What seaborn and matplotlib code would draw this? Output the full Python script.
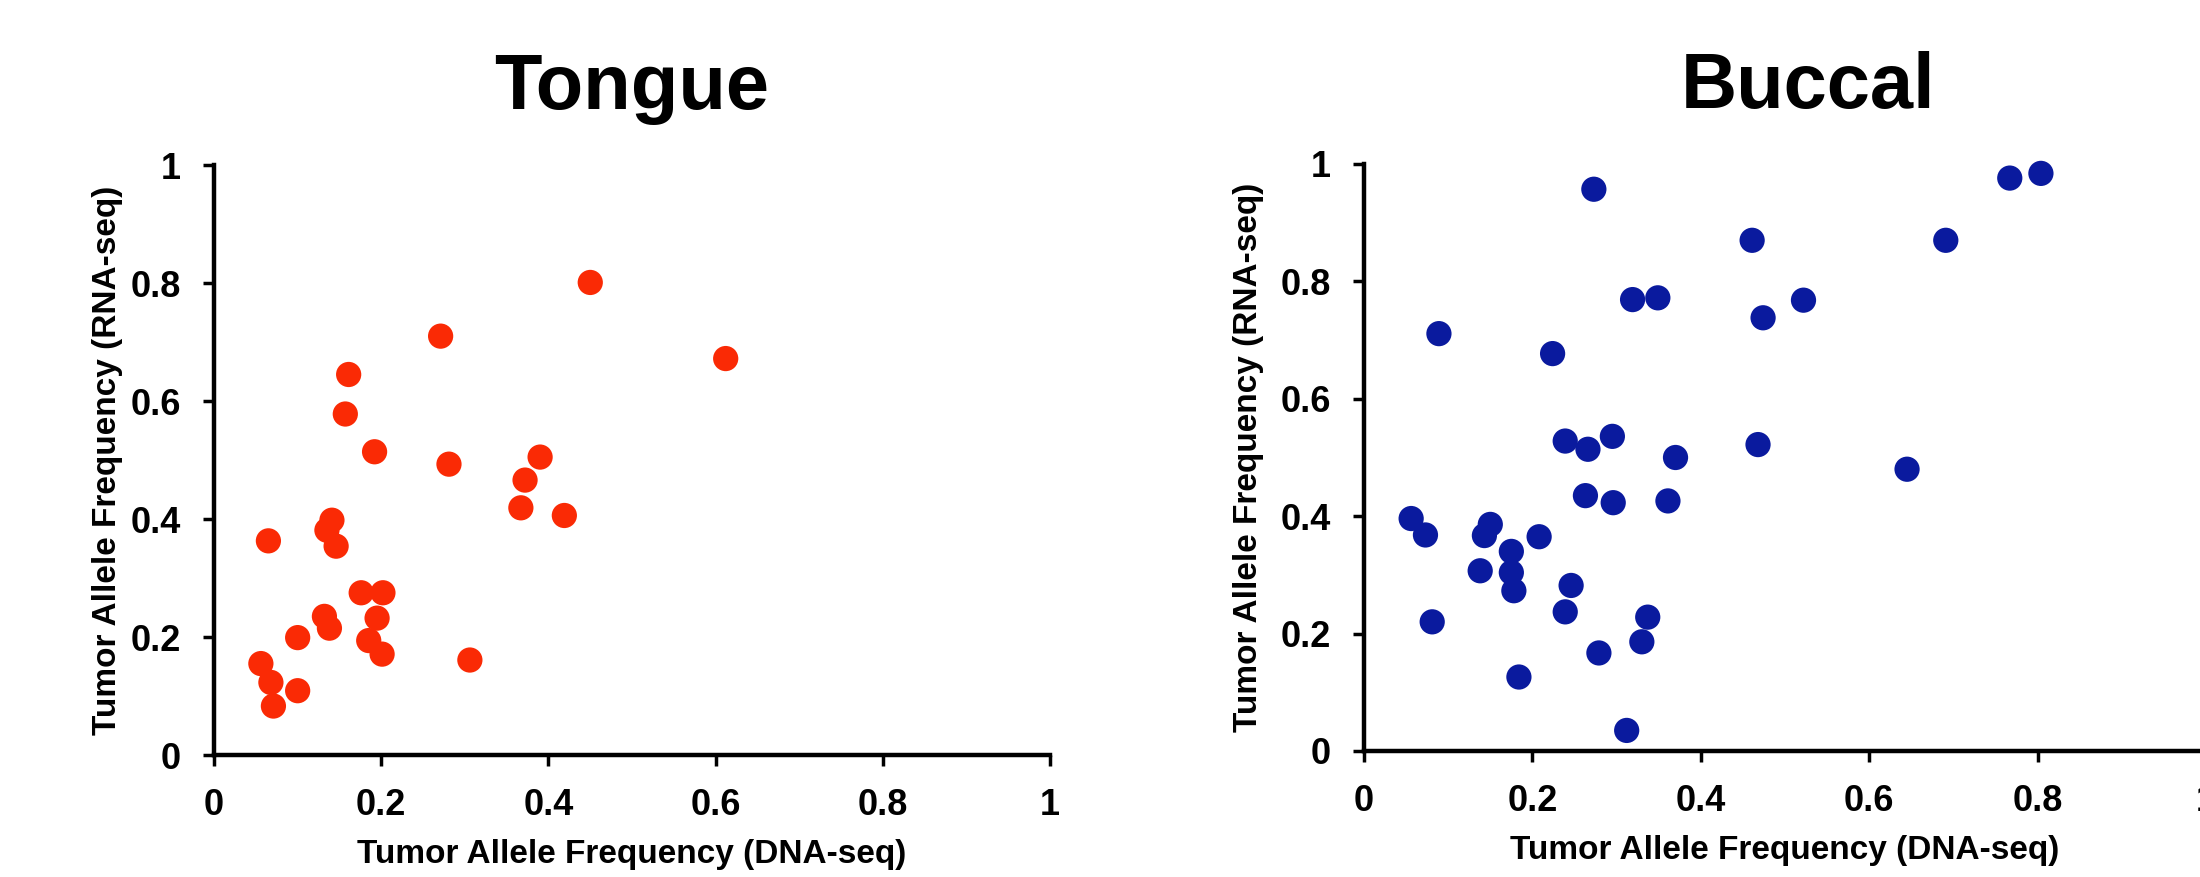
import numpy as np
import pandas as pd
import seaborn as sns
import matplotlib
matplotlib.use('Agg')
import matplotlib.pyplot as plt

# tongue: DNA-seq vs RNA-seq tumor allele frequency
tongue_dna = [0.450, 0.271, 0.612, 0.161, 0.157, 0.192, 0.281, 0.390, 0.372, 0.367,
              0.419, 0.141, 0.135, 0.146, 0.065, 0.176, 0.202, 0.195, 0.132, 0.138,
              0.100, 0.185, 0.201, 0.306, 0.056, 0.068, 0.100, 0.071]
tongue_rna = [0.801, 0.710, 0.672, 0.645, 0.578, 0.514, 0.493, 0.505, 0.466, 0.419,
              0.406, 0.398, 0.381, 0.354, 0.363, 0.275, 0.275, 0.232, 0.235, 0.215,
              0.199, 0.194, 0.171, 0.161, 0.155, 0.123, 0.109, 0.083]

# buccal
buccal_dna = [0.273, 0.767, 0.804, 0.461, 0.691, 0.319, 0.349, 0.522, 0.474, 0.089,
              0.224, 0.239, 0.266, 0.295, 0.370, 0.468, 0.645, 0.263, 0.296, 0.361,
              0.056, 0.073, 0.150, 0.143, 0.208, 0.175, 0.138, 0.175, 0.178, 0.246,
              0.239, 0.337, 0.081, 0.330, 0.279, 0.184, 0.312]
buccal_rna = [0.957, 0.976, 0.984, 0.870, 0.870, 0.769, 0.772, 0.768, 0.738, 0.711,
              0.677, 0.528, 0.514, 0.536, 0.500, 0.522, 0.480, 0.435, 0.423, 0.426,
              0.396, 0.368, 0.386, 0.367, 0.365, 0.340, 0.307, 0.304, 0.273, 0.282,
              0.237, 0.228, 0.220, 0.186, 0.167, 0.126, 0.035]

ticks = [0, 0.2, 0.4, 0.6, 0.8, 1]
tick_labels = ['0', '0.2', '0.4', '0.6', '0.8', '1']

sns.set_style('ticks')
plt.rcParams['font.family'] = ['Liberation Sans', 'DejaVu Sans']
plt.rcParams['font.weight'] = 'bold'
# seaborn greys the text, the original is black
plt.rcParams['text.color'] = 'black'
plt.rcParams['axes.labelcolor'] = 'black'
plt.rcParams['xtick.color'] = 'black'
plt.rcParams['ytick.color'] = 'black'

fig = plt.figure(figsize=(22, 8.77), dpi=100)
ax1 = fig.add_axes([0.0973, 0.1391, 0.38, 0.6727])
ax2 = fig.add_axes([0.62, 0.1437, 0.3827, 0.6693])

df_t = pd.DataFrame({'dna': tongue_dna, 'rna': tongue_rna})
df_b = pd.DataFrame({'dna': buccal_dna, 'rna': buccal_rna})

sns.scatterplot(data=df_t, x='dna', y='rna', ax=ax1, color='#FA2A05',
                s=330, edgecolor='none', clip_on=False)
sns.scatterplot(data=df_b, x='dna', y='rna', ax=ax2, color='#0A1A9E',
                s=330, edgecolor='none', clip_on=False)

for ax, title, tx, ypad in [(ax1, 'Tongue', 0.5, 5), (ax2, 'Buccal', 0.528, 12)]:
    ax.set_xlim(0, 1)
    ax.set_ylim(0, 1)
    ax.set_xticks(ticks)
    ax.set_xticklabels(tick_labels)
    ax.set_yticks(ticks)
    ax.set_yticklabels(tick_labels)
    sns.despine(ax=ax)
    for sp in ['left', 'bottom']:
        ax.spines[sp].set_linewidth(3.2)
        ax.spines[sp].set_color('black')
    ax.tick_params(axis='both', length=8, width=2.5, color='black',
                   labelcolor='black', labelsize=26, pad=16)
    for lab in ax.get_xticklabels() + ax.get_yticklabels():
        lab.set_fontweight('bold')
    ax.set_xlabel('Tumor Allele Frequency (DNA-seq)', fontsize=24,
                  fontweight='bold', labelpad=11, color='black')
    ax.set_ylabel('Tumor Allele Frequency (RNA-seq)', fontsize=24,
                  fontweight='bold', labelpad=ypad, color='black')
    ax.set_title(title, fontsize=56, fontweight='bold', pad=40, x=tx,
                 color='black')

fig.savefig('out.png', dpi=100, facecolor='white')
